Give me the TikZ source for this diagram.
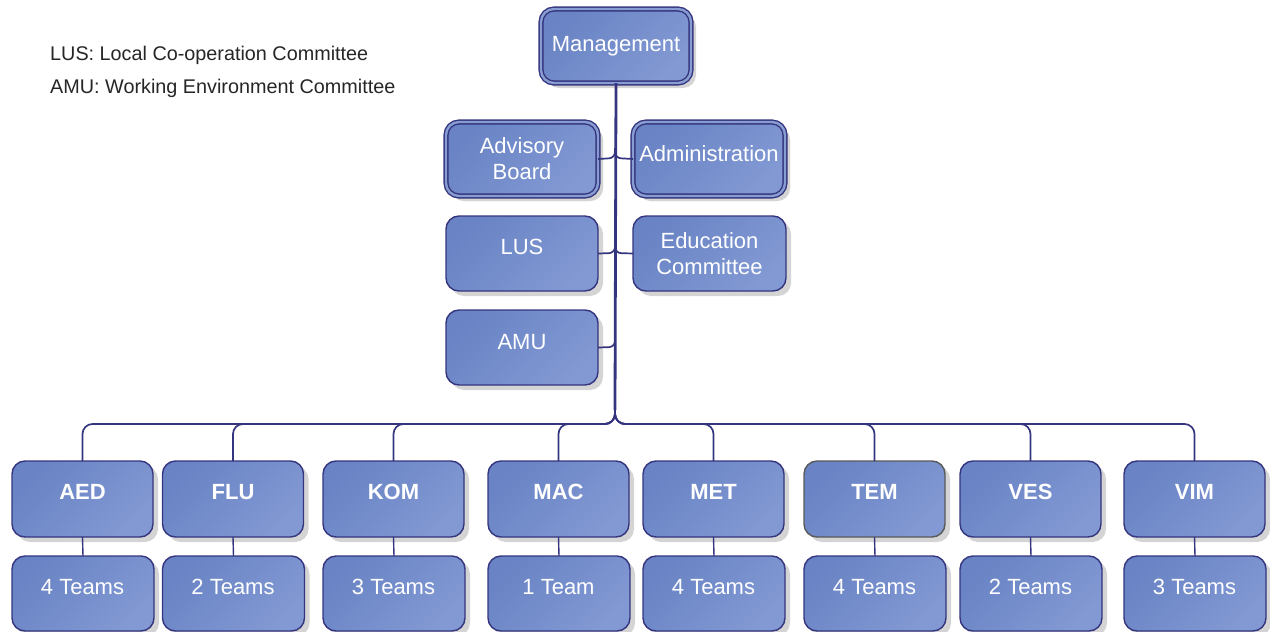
\documentclass[tikz,border=0pt]{standalone}
\usepackage{fontspec}
\setmainfont{Liberation Sans}
\definecolor{boxA}{HTML}{6983C4}
\definecolor{boxB}{HTML}{8299D3}
\definecolor{edge}{HTML}{34357E}
\definecolor{shad}{HTML}{D4D4D4}
\tikzset{
  x=1pt, y=-1pt,
  box/.style={rectangle, rounded corners=13, draw=edge, line width=1.4,
    preaction={fill=shad, draw=none, transform canvas={xshift=5pt, yshift=-5pt}},
    top color=boxA, bottom color=boxB, shading angle=45,
    outer sep=0, inner sep=0, text=white, font=\fontsize{22}{26}\selectfont, align=center},
  dbox/.style={box, double=boxA!80!white, double distance=2.4},
  wbox/.style={box, minimum width=152, minimum height=74},
  bbox/.style={box, minimum width=141, minimum height=76},
  tbox/.style={box, minimum width=142, minimum height=75},
  txt/.style={text=white, font=\fontsize{22}{26}\selectfont, inner sep=0},
  btxt/.style={text=white, font=\fontsize{22}{26}\selectfont\bfseries, inner sep=0},
  legend/.style={anchor=west, text=black!85, font=\fontsize{19.8}{23}\selectfont, inner sep=0},
  trunk/.style={draw=edge, line width=2.8},
  conn/.style={draw=edge, line width=1.7, rounded corners=10},
}
\begin{document}
\begin{tikzpicture}
\useasboundingbox (0,0) rectangle (1270,632);

\node[legend] (leg1) at (50,55) {LUS: Local Co-operation Committee};
\node[legend] (leg2) at (50,88) {AMU: Working Environment Committee};

\coordinate (jn) at (615,410);

\node[dbox, minimum width=150, minimum height=74] (mgmt) at (616,46) {Management};
\node[dbox, wbox] (adv) at (522,159) {Advisory\\Board};
\node[dbox, wbox] (adm) at (709,159) {};
\node[txt] (admt) at (709,154) {Administration};
\node[wbox, minimum height=75] (lus) at (522,253.5) {};
\node[txt] (lust) at (522,247) {LUS};
\node[wbox, minimum width=153, minimum height=75] (edu) at (709.5,253.5) {Education\\Committee};
\node[wbox, minimum height=75] (amu) at (522,347.5) {};
\node[txt] (amut) at (522,342) {AMU};

\draw[trunk] (mgmt.south) -- (jn);
\draw[conn, rounded corners=6] (adv.east) -- (615,158) -- (615,148);
\draw[conn, rounded corners=6] (adm.west) -- (615,158) -- (615,148);
\draw[conn, rounded corners=6] (lus.east) -- (615,253) -- (615,243);
\draw[conn, rounded corners=6] (edu.west) -- (615,253) -- (615,243);
\draw[conn, rounded corners=6] (amu.east) -- (615,347) -- (615,337);

\foreach \n/\x/\lab/\team/\col in {aed/82.5/AED/4 Teams/edge, flu/233/FLU/2 Teams/edge, kom/393.5/KOM/3 Teams/edge, mac/558.5/MAC/1 Team/edge, met/713.5/MET/4 Teams/edge, tem/874.5/TEM/4 Teams/black!65, ves/1030.5/VES/2 Teams/edge, vim/1194.5/VIM/3 Teams/edge}{
  \node[bbox, draw=\col] (\n) at (\x,499) {};
  \node[btxt] (\n l) at (\x,492) {\lab};
  \node[tbox] (\n t) at (\x+0.5,593.5) {};
  \node[txt] (\n tl) at (\x,587) {\team};
  \draw[conn] (jn) -- (615,424) -| (\n.north);
  \draw[edge, line width=1.4] (\n.south) -- (\n t.north);
}
\end{tikzpicture}
\end{document}
